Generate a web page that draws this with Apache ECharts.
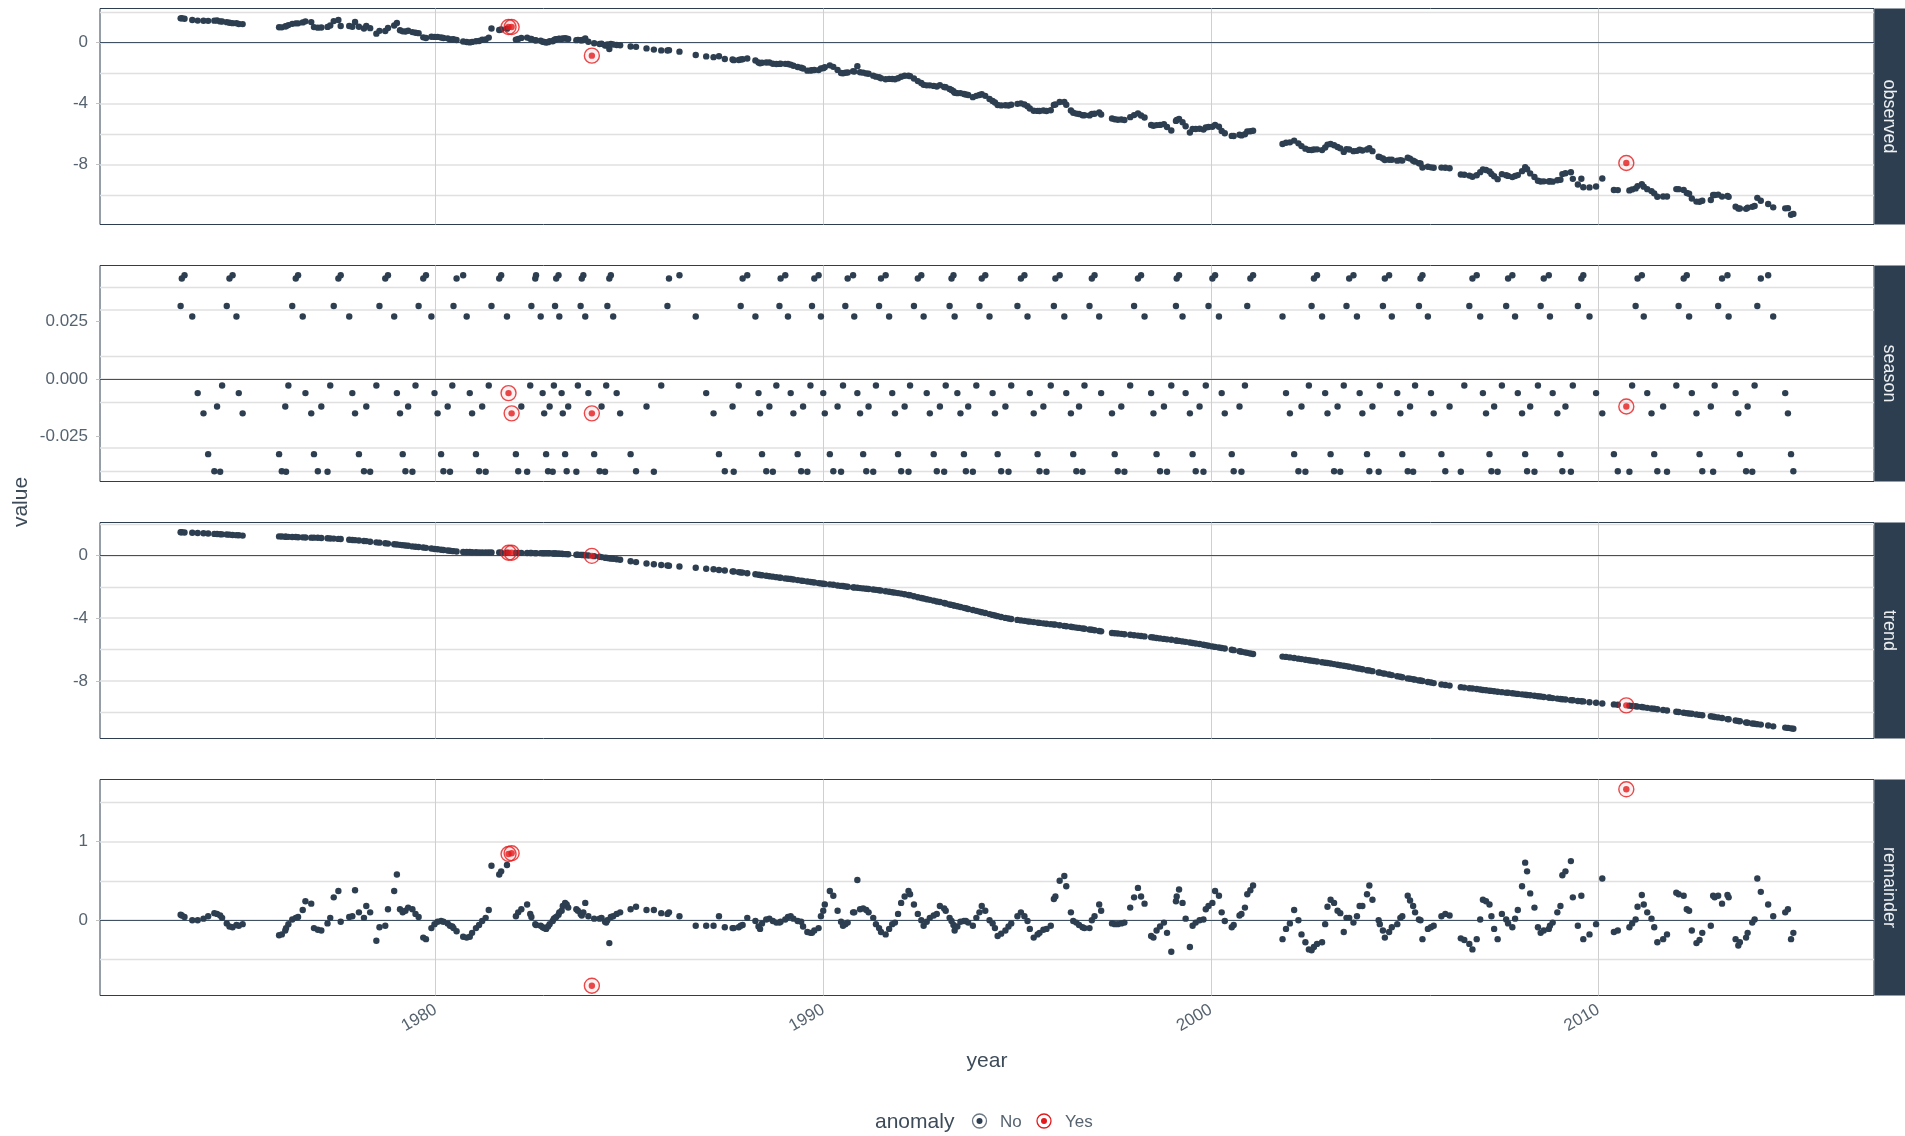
<!DOCTYPE html>
<html>
<head>
<meta charset="utf-8">
<title>Anomaly decomposition</title>
<script src="https://cdn.jsdelivr.net/npm/echarts@6/dist/echarts.min.js"></script>
<style>
  html, body { margin: 0; padding: 0; background: #ffffff; }
  #chart { width: 1905px; height: 1136px; }
</style>
</head>
<body>
<div id="chart"></div>
<script>
// ---- data: one entry per observation (decimal year) ----
const years = [
 1973.42,1973.45,1973.52,1973.72,1973.86,1974.01,1974.13,1974.29,1974.36,1974.44,1974.49,
 1974.61,1974.68,1974.76,1974.86,1974.92,1975.02,
 1975.96,1976.03,1976.12,1976.14,1976.20,
 1976.30,1976.39,1976.45,1976.57,1976.64,1976.79,1976.86,1976.96,1977.05,1977.21,1977.28,
 1977.37,1977.49,1977.55,1977.77,1977.85,1977.92,1978.02,1978.15,1978.21,1978.31,1978.47,
 1978.55,1978.70,1978.77,1978.93,1979.00,1979.08,1979.15,1979.22,1979.29,1979.40,1979.48,
 1979.56,1979.68,1979.75,1979.89,1979.97,1980.05,1980.14,1980.20,1980.31,1980.37,1980.43,
 1980.46,1980.54,1980.71,1980.80,1980.88,1980.94,1981.04,1981.12,1981.20,1981.29,1981.37,
 1981.44,1981.64,1981.69,1981.84,1981.88,1981.96,1982.07,1982.13,1982.21,1982.36,1982.44,
 1982.47,1982.57,1982.59,1982.71,1982.76,1982.80,1982.85,1982.90,1982.94,1983.02,1983.05,
 1983.08,1983.11,1983.17,1983.19,1983.25,1983.28,1983.34,1983.38,1983.42,1983.63,1983.67,
 1983.74,1983.77,1983.81,1983.86,1983.94,1984.03,1984.09,1984.23,1984.28,1984.37,1984.40,
 1984.43,1984.48,1984.52,1984.58,1984.67,1984.76,1985.03,1985.17,1985.44,1985.63,1985.82,
 1985.98,1986.02,1986.29,1986.71,1986.98,1987.17,1987.31,1987.46,1987.66,1987.69,1987.82,
 1987.87,1987.92,1988.04,1988.25,1988.33,1988.37,1988.42,1988.53,1988.61,1988.70,1988.79,
 1988.87,1988.90,1989.02,1989.09,1989.16,1989.23,1989.34,1989.43,1989.48,1989.59,1989.67,
 1989.71,1989.77,1989.88,1989.94,1990.00,1990.04,1990.17,1990.26,1990.37,1990.46,1990.51,
 1990.57,1990.63,1990.77,1990.80,1990.88,1990.95,1991.03,1991.11,1991.17,1991.29,1991.36,
 1991.44,1991.49,1991.61,1991.70,1991.78,1991.85,1991.93,1992.01,1992.10,1992.20,1992.24,
 1992.34,1992.44,1992.53,1992.59,1992.67,1992.75,1992.85,1992.93,1993.01,1993.12,1993.16,
 1993.26,1993.31,1993.36,1993.39,1993.46,1993.54,1993.63,1993.68,1993.74,1993.86,1993.95,
 1994.03,1994.09,1994.18,1994.29,1994.37,1994.43,1994.50,1994.59,1994.70,1994.78,1994.85,
 1995.01,1995.10,1995.19,1995.27,1995.33,1995.43,1995.53,1995.58,1995.68,1995.76,1995.87,
 1995.95,1995.99,1996.10,1996.22,1996.27,1996.39,1996.45,1996.53,1996.60,1996.69,1996.74,
 1996.87,1996.93,1997.00,1997.12,1997.17,1997.45,1997.52,1997.60,1997.69,1997.77,1997.92,
 1998.02,1998.12,1998.20,1998.29,1998.46,1998.52,1998.60,1998.69,1998.79,1998.87,1998.98,
 1999.10,1999.12,1999.18,1999.27,1999.35,1999.46,1999.53,1999.61,1999.71,1999.81,1999.87,
 1999.94,2000.04,2000.11,2000.21,2000.28,2000.36,2000.54,2000.59,2000.74,2000.79,2000.88,
 2000.94,2001.02,2001.09,
 2001.85,2001.94,2002.04,2002.15,2002.26,2002.34,2002.44,2002.53,
 2002.60,2002.66,2002.74,2002.87,2002.95,2003.01,2003.09,2003.18,2003.27,2003.34,2003.43,
 2003.50,2003.57,2003.68,2003.77,2003.84,2003.91,2004.03,2004.09,2004.17,2004.33,2004.36,
 2004.44,2004.49,2004.60,2004.67,2004.81,2004.89,2004.94,2005.08,2005.14,2005.22,2005.27,
 2005.37,2005.41,2005.46,2005.60,2005.68,2005.75,2005.95,2006.05,2006.16,2006.45,2006.54,
 2006.67,2006.75,2006.86,2006.95,2007.02,2007.10,2007.19,2007.24,2007.31,2007.40,2007.51,
 2007.62,2007.67,2007.78,2007.85,2007.92,2008.03,2008.11,2008.16,2008.24,2008.35,2008.44,
 2008.51,2008.59,2008.72,2008.75,2008.82,2008.94,2009.02,2009.07,2009.15,2009.29,2009.34,
 2009.47,2009.56,2009.61,2009.77,2009.94,2010.10,2010.40,2010.50,2010.72,2010.80,2010.87,
 2010.96,2011.01,2011.12,2011.17,2011.26,2011.37,2011.44,2011.52,2011.67,2011.77,2012.01,
 2012.07,2012.20,2012.28,2012.34,2012.41,2012.53,2012.61,2012.68,2012.90,2012.96,2013.00,
 2013.09,2013.19,2013.33,2013.36,2013.54,2013.61,2013.65,2013.81,2013.85,2013.97,2014.03,
 2014.10,2014.19,2014.38,2014.51,2014.82,2014.89,2014.97,2015.03
];

const season = [
 0.0317,0.0436,0.0450,0.0271,-0.0061,-0.0149,-0.0326,-0.0400,-0.0119,-0.0402,-0.0028,
 0.0317,0.0436,0.0450,0.0271,-0.0061,-0.0149,
 -0.0326,-0.0400,-0.0119,-0.0402,-0.0028,
 0.0317,0.0436,0.0450,0.0271,-0.0061,-0.0149,-0.0326,-0.0400,-0.0119,-0.0402,-0.0028,
 0.0317,0.0436,0.0450,0.0271,-0.0061,-0.0149,-0.0326,-0.0400,-0.0119,-0.0402,-0.0028,
 0.0317,0.0436,0.0450,0.0271,-0.0061,-0.0149,-0.0326,-0.0400,-0.0119,-0.0402,-0.0028,
 0.0317,0.0436,0.0450,0.0271,-0.0061,-0.0149,-0.0326,-0.0400,-0.0119,-0.0402,-0.0028,
 0.0317,0.0436,0.0450,0.0271,-0.0061,-0.0149,-0.0326,-0.0400,-0.0119,-0.0402,-0.0028,
 0.0317,0.0436,0.0450,0.0271,-0.0061,-0.0149,-0.0326,-0.0400,-0.0119,-0.0402,-0.0028,
 0.0317,0.0436,0.0450,0.0271,-0.0061,-0.0149,-0.0326,-0.0400,-0.0119,-0.0402,-0.0028,
 0.0317,0.0436,0.0450,0.0271,-0.0061,-0.0149,-0.0326,-0.0400,-0.0119,-0.0402,-0.0028,
 0.0317,0.0436,0.0450,0.0271,-0.0061,-0.0149,-0.0326,-0.0400,-0.0119,-0.0402,-0.0028,
 0.0317,0.0436,0.0450,0.0271,-0.0061,-0.0149,-0.0326,-0.0400,-0.0119,-0.0402,-0.0028,
 0.0317,0.0436,0.0450,0.0271,-0.0061,-0.0149,-0.0326,-0.0400,-0.0119,-0.0402,-0.0028,
 0.0317,0.0436,0.0450,0.0271,-0.0061,-0.0149,-0.0326,-0.0400,-0.0119,-0.0402,-0.0028,
 0.0317,0.0436,0.0450,0.0271,-0.0061,-0.0149,-0.0326,-0.0400,-0.0119,-0.0402,-0.0028,
 0.0317,0.0436,0.0450,0.0271,-0.0061,-0.0149,-0.0326,-0.0400,-0.0119,-0.0402,-0.0028,
 0.0317,0.0436,0.0450,0.0271,-0.0061,-0.0149,-0.0326,-0.0400,-0.0119,-0.0402,-0.0028,
 0.0317,0.0436,0.0450,0.0271,-0.0061,-0.0149,-0.0326,-0.0400,-0.0119,-0.0402,-0.0028,
 0.0317,0.0436,0.0450,0.0271,-0.0061,-0.0149,-0.0326,-0.0400,-0.0119,-0.0402,-0.0028,
 0.0317,0.0436,0.0450,0.0271,-0.0061,-0.0149,-0.0326,-0.0400,-0.0119,-0.0402,-0.0028,
 0.0317,0.0436,0.0450,0.0271,-0.0061,-0.0149,-0.0326,-0.0400,-0.0119,-0.0402,-0.0028,
 0.0317,0.0436,0.0450,0.0271,-0.0061,-0.0149,-0.0326,-0.0400,-0.0119,-0.0402,-0.0028,
 0.0317,0.0436,0.0450,0.0271,-0.0061,-0.0149,-0.0326,-0.0400,-0.0119,-0.0402,-0.0028,
 0.0317,0.0436,0.0450,0.0271,-0.0061,-0.0149,-0.0326,-0.0400,-0.0119,-0.0402,-0.0028,
 0.0317,0.0436,0.0450,0.0271,-0.0061,-0.0149,-0.0326,-0.0400,-0.0119,-0.0402,-0.0028,
 0.0317,0.0436,0.0450,0.0271,-0.0061,-0.0149,-0.0326,-0.0400,-0.0119,-0.0402,-0.0028,
 0.0317,0.0436,0.0450,0.0271,-0.0061,-0.0149,-0.0326,-0.0400,-0.0119,-0.0402,-0.0028,
 0.0317,0.0436,0.0450,
 0.0271,-0.0061,-0.0149,-0.0326,-0.0400,-0.0119,-0.0402,-0.0028,
 0.0317,0.0436,0.0450,0.0271,-0.0061,-0.0149,-0.0326,-0.0400,-0.0119,-0.0402,-0.0028,
 0.0317,0.0436,0.0450,0.0271,-0.0061,-0.0149,-0.0326,-0.0400,-0.0119,-0.0402,-0.0028,
 0.0317,0.0436,0.0450,0.0271,-0.0061,-0.0149,-0.0326,-0.0400,-0.0119,-0.0402,-0.0028,
 0.0317,0.0436,0.0450,0.0271,-0.0061,-0.0149,-0.0326,-0.0400,-0.0119,-0.0402,-0.0028,
 0.0317,0.0436,0.0450,0.0271,-0.0061,-0.0149,-0.0326,-0.0400,-0.0119,-0.0402,-0.0028,
 0.0317,0.0436,0.0450,0.0271,-0.0061,-0.0149,-0.0326,-0.0400,-0.0119,-0.0402,-0.0028,
 0.0317,0.0436,0.0450,0.0271,-0.0061,-0.0149,-0.0326,-0.0400,-0.0119,-0.0402,-0.0028,
 0.0317,0.0436,0.0450,0.0271,-0.0061,-0.0149,-0.0326,-0.0400,-0.0119,-0.0402,-0.0028,
 0.0317,0.0436,0.0450,0.0271,-0.0061,-0.0149,-0.0326,-0.0400,-0.0119,-0.0402,-0.0028,
 0.0317,0.0436,0.0450,0.0271,-0.0061,-0.0149,-0.0326,-0.0400,-0.0119,-0.0402,-0.0028,
 0.0317,0.0436,0.0450,0.0271,-0.0061,-0.0149,-0.0326,-0.0400,-0.0119,-0.0402,-0.0028,
 0.0317,0.0436,0.0450,0.0271,-0.0061,-0.0149,-0.0326,-0.0400
];

const trend = [
 1.48,1.48,1.47,1.45,1.44,1.42,1.40,1.38,1.37,1.36,1.35,
 1.34,1.33,1.31,1.30,1.29,1.27,
 1.22,1.21,1.20,1.20,1.19,
 1.18,1.18,1.17,1.16,1.15,1.14,1.14,1.13,1.12,1.10,1.09,
 1.08,1.06,1.05,1.01,0.99,0.98,0.96,0.93,0.92,0.88,0.84,
 0.82,0.78,0.76,0.72,0.70,0.68,0.66,0.64,0.62,0.58,0.56,
 0.54,0.51,0.49,0.45,0.42,0.40,0.37,0.35,0.32,0.30,0.28,
 0.28,0.26,0.23,0.22,0.22,0.21,0.21,0.20,0.20,0.20,0.19,
 0.19,0.19,0.18,0.18,0.18,0.18,0.17,0.17,0.17,0.16,0.16,
 0.16,0.15,0.15,0.15,0.14,0.14,0.14,0.14,0.14,0.13,0.13,
 0.13,0.13,0.12,0.12,0.11,0.10,0.09,0.09,0.08,0.05,0.05,
 0.04,0.03,0.03,0.02,0.00,-0.02,-0.04,-0.08,-0.10,-0.14,-0.15,
 -0.16,-0.18,-0.19,-0.21,-0.24,-0.27,-0.37,-0.42,-0.51,-0.56,-0.61,
 -0.64,-0.65,-0.70,-0.78,-0.84,-0.88,-0.92,-0.96,-1.01,-1.02,-1.06,
 -1.08,-1.09,-1.13,-1.20,-1.23,-1.24,-1.26,-1.29,-1.32,-1.35,-1.38,
 -1.41,-1.42,-1.46,-1.48,-1.50,-1.53,-1.57,-1.60,-1.62,-1.66,-1.68,
 -1.70,-1.72,-1.76,-1.78,-1.80,-1.81,-1.84,-1.87,-1.91,-1.94,-1.95,
 -1.97,-1.99,-2.03,-2.04,-2.06,-2.08,-2.10,-2.12,-2.14,-2.17,-2.19,
 -2.22,-2.24,-2.28,-2.31,-2.34,-2.37,-2.40,-2.43,-2.47,-2.52,-2.54,
 -2.60,-2.66,-2.71,-2.74,-2.79,-2.83,-2.88,-2.93,-2.97,-3.03,-3.06,
 -3.12,-3.15,-3.18,-3.20,-3.24,-3.29,-3.34,-3.37,-3.41,-3.48,-3.53,
 -3.58,-3.62,-3.67,-3.74,-3.79,-3.83,-3.87,-3.92,-3.98,-4.02,-4.05,
 -4.11,-4.14,-4.17,-4.20,-4.22,-4.25,-4.28,-4.30,-4.33,-4.35,-4.38,
 -4.40,-4.41,-4.45,-4.49,-4.51,-4.55,-4.57,-4.60,-4.62,-4.65,-4.67,
 -4.72,-4.74,-4.77,-4.82,-4.84,-4.94,-4.96,-4.98,-5.00,-5.02,-5.06,
 -5.09,-5.11,-5.14,-5.16,-5.21,-5.23,-5.26,-5.29,-5.32,-5.35,-5.38,
 -5.42,-5.43,-5.45,-5.48,-5.51,-5.55,-5.58,-5.61,-5.65,-5.69,-5.72,
 -5.76,-5.80,-5.83,-5.87,-5.90,-5.93,-6.01,-6.04,-6.11,-6.14,-6.18,
 -6.21,-6.25,-6.28,
 -6.45,-6.47,-6.50,-6.54,-6.58,-6.61,-6.65,-6.68,
 -6.71,-6.73,-6.76,-6.81,-6.84,-6.86,-6.89,-6.93,-6.97,-7.00,-7.03,
 -7.06,-7.10,-7.15,-7.19,-7.22,-7.26,-7.32,-7.34,-7.38,-7.46,-7.47,
 -7.52,-7.54,-7.59,-7.63,-7.70,-7.74,-7.77,-7.84,-7.86,-7.90,-7.92,
 -7.97,-7.98,-8.01,-8.07,-8.10,-8.14,-8.23,-8.26,-8.30,-8.40,-8.43,
 -8.47,-8.49,-8.52,-8.55,-8.58,-8.60,-8.63,-8.64,-8.66,-8.69,-8.72,
 -8.75,-8.76,-8.79,-8.81,-8.83,-8.86,-8.88,-8.90,-8.92,-8.95,-8.98,
 -9.00,-9.03,-9.06,-9.07,-9.10,-9.13,-9.16,-9.17,-9.19,-9.23,-9.24,
 -9.28,-9.30,-9.31,-9.36,-9.40,-9.44,-9.50,-9.52,-9.56,-9.58,-9.60,
 -9.62,-9.64,-9.67,-9.69,-9.72,-9.76,-9.78,-9.81,-9.86,-9.89,-9.97,
 -9.99,-10.03,-10.06,-10.08,-10.10,-10.14,-10.17,-10.19,-10.26,-10.28,-10.30,
 -10.33,-10.37,-10.44,-10.45,-10.53,-10.56,-10.58,-10.66,-10.67,-10.72,-10.74,
 -10.76,-10.79,-10.85,-10.90,-10.98,-11.00,-11.03,-11.05
];

const remainder = [
 0.07,0.06,0.04,0.00,0.00,0.02,0.05,0.09,0.08,0.06,0.03,
 -0.04,-0.08,-0.09,-0.06,-0.07,-0.05,
 -0.19,-0.18,-0.13,-0.10,-0.05,
 0.01,0.03,0.04,0.13,0.24,0.21,-0.10,-0.12,-0.13,-0.04,0.03,
 0.29,0.37,-0.02,0.04,0.05,0.38,0.10,0.03,0.18,0.10,-0.26,
 -0.09,-0.07,0.14,0.37,0.58,0.14,0.10,0.12,0.16,0.14,0.08,
 0.04,-0.22,-0.24,-0.10,-0.05,-0.02,-0.01,-0.02,-0.04,-0.07,-0.08,
 -0.10,-0.14,-0.21,-0.22,-0.21,-0.16,-0.10,-0.06,-0.01,0.03,0.13,
 0.69,0.58,0.62,0.70,0.84,0.85,0.05,0.10,0.14,0.20,0.08,
 0.04,-0.05,-0.06,-0.07,-0.09,-0.10,-0.11,-0.08,-0.05,-0.01,0.02,
 0.03,0.04,0.07,0.10,0.12,0.18,0.22,0.20,0.16,0.14,0.12,
 0.08,0.06,0.10,0.22,0.05,-0.83,0.02,0.02,0.03,-0.02,-0.03,
 0.00,-0.29,0.04,0.05,0.08,0.10,0.14,0.17,0.13,0.13,0.09,
 0.08,0.10,0.05,-0.07,-0.07,-0.07,0.05,-0.09,-0.10,-0.10,-0.09,
 -0.07,-0.06,0.03,-0.01,-0.08,-0.11,-0.04,0.01,0.02,-0.01,-0.03,
 -0.03,-0.02,0.01,0.04,0.05,0.02,-0.01,-0.02,-0.08,-0.15,-0.16,
 -0.16,-0.13,-0.10,0.05,0.12,0.20,0.37,0.31,0.12,-0.02,-0.07,
 -0.05,-0.03,0.10,0.10,0.51,0.14,0.15,0.13,0.10,0.03,-0.05,
 -0.10,-0.15,-0.18,-0.11,-0.05,-0.03,0.08,0.22,0.30,0.37,0.33,
 0.20,0.08,0.00,-0.07,-0.02,0.03,0.06,0.08,0.18,0.15,0.12,
 0.03,-0.01,-0.06,-0.13,-0.08,-0.02,-0.01,-0.01,-0.03,-0.07,0.03,
 0.10,0.18,0.12,0.00,-0.04,-0.10,-0.20,-0.17,-0.13,-0.08,-0.04,
 0.05,0.10,0.05,-0.01,-0.11,-0.22,-0.18,-0.16,-0.12,-0.11,-0.07,
 0.27,0.30,0.50,0.56,0.43,0.10,-0.01,-0.03,-0.06,-0.09,-0.10,
 -0.10,0.00,0.05,0.20,0.12,-0.04,-0.05,-0.05,-0.04,-0.03,0.16,
 0.29,0.41,0.30,0.21,-0.20,-0.22,-0.13,-0.08,-0.03,-0.16,-0.40,
 0.24,0.30,0.39,0.22,0.02,-0.34,-0.07,-0.03,0.00,0.01,0.14,
 0.18,0.22,0.37,0.31,0.10,-0.01,-0.09,-0.06,0.06,0.08,0.16,
 0.33,0.38,0.44,
 -0.24,-0.11,-0.04,0.13,0.00,-0.18,-0.28,-0.37,
 -0.38,-0.34,-0.30,-0.28,-0.05,0.17,0.26,0.22,0.12,0.09,-0.15,
 0.03,0.03,-0.03,0.05,0.18,0.18,0.33,0.44,0.26,0.00,-0.05,
 -0.13,-0.22,-0.15,-0.09,-0.05,0.03,0.05,0.31,0.25,0.18,0.10,
 0.01,0.00,-0.24,-0.11,-0.09,-0.07,0.05,0.08,0.06,-0.23,-0.25,
 -0.30,-0.37,-0.24,0.01,0.26,0.24,0.20,0.05,-0.11,-0.24,0.08,
 0.01,-0.04,-0.09,0.02,0.13,0.43,0.73,0.62,0.34,0.16,-0.09,
 -0.16,-0.13,-0.11,-0.07,-0.03,0.10,0.18,0.57,0.62,0.75,0.29,
 -0.07,0.31,-0.24,-0.18,-0.05,0.53,-0.15,-0.13,1.66,-0.09,-0.04,
 0.01,0.17,0.32,0.20,0.10,0.02,-0.09,-0.28,-0.24,-0.18,0.35,
 0.33,0.31,0.14,0.12,-0.13,-0.29,-0.25,-0.16,-0.07,0.31,0.29,
 0.31,0.21,0.32,0.29,-0.24,-0.32,-0.28,-0.22,-0.16,-0.03,0.01,
 0.53,0.36,0.20,0.05,0.10,0.14,-0.24,-0.16
];

// observations flagged as anomalies
const anomalyYears = [1981.88, 1981.96, 1984.03, 2010.72];

// facet order and axis breaks
const panels = ['observed', 'season', 'trend', 'remainder'];
const xBreaks = [1980, 1990, 2000, 2010];
const yBreaks = {
  observed:  [-8, -4, 0],
  season:    [-0.025, 0, 0.025],
  trend:     [-8, -4, 0],
  remainder: [0, 1]
};
const yMinorBreaks = {
  observed:  [-10, -6, -2, 2],
  season:    [-0.0375, -0.0125, 0.0125, 0.0375],
  trend:     [-10, -6, -2, 2],
  remainder: [-0.5, 0.5, 1.5]
};

// ---- derived values ----
const n = Math.min(years.length, season.length, trend.length, remainder.length);
// the observed series is the sum of its three components
const observed = [];
for (let i = 0; i < n; i++) observed.push(+(trend[i] + season[i] + remainder[i]).toFixed(4));
const values = { observed, season, trend, remainder };
const isAnomaly = years.map(y => anomalyYears.some(a => Math.abs(a - y) < 1e-6));

function expanded(arr) {
  let lo = Infinity, hi = -Infinity;
  for (let i = 0; i < n; i++) { lo = Math.min(lo, arr[i]); hi = Math.max(hi, arr[i]); }
  const pad = (hi - lo) * 0.05;
  return [lo - pad, hi + pad];
}

// ---- styling ----
const FONT = 'Liberation Sans, Arial, Helvetica, sans-serif';
const NAVY = '#2c3e50';
const RED = '#e31a1c';
const TICK_TEXT = '#56636f';
const TITLE_TEXT = '#3d4b59';
const GRID_H = '#e0e0e0';
const GRID_V = '#cfcfcf';
const DOT = 6.4;

const L = 100, R = 31, TOP = 8.5, H = 216, GAP = 41;
const W = 1905;
const panelTop = i => TOP + i * (H + GAP);

const xRange = expanded(years);

const grid = [], xAxis = [], yAxis = [], series = [], graphic = [];

panels.forEach((p, i) => {
  const isBottom = i === panels.length - 1;
  const yr = expanded(values[p]);
  grid.push({
    left: L, right: R, top: panelTop(i), height: H,
    show: true, borderColor: NAVY, borderWidth: 1, backgroundColor: 'transparent'
  });
  xAxis.push({
    type: 'value', gridIndex: i, min: xRange[0], max: xRange[1],
    splitLine: { show: false }, axisLine: { show: false },
    axisTick: { show: isBottom, length: 4, customValues: xBreaks, lineStyle: { color: '#c2c2c2', width: 1 } },
    axisLabel: {
      show: isBottom, customValues: xBreaks, rotate: 30, margin: 13,
      fontSize: 17, color: TICK_TEXT, fontFamily: FONT,
      formatter: v => String(v)
    }
  });
  yAxis.push({
    type: 'value', gridIndex: i, min: yr[0], max: yr[1],
    splitLine: { show: false }, axisLine: { show: false },
    axisTick: { show: true, length: 4, customValues: yBreaks[p], lineStyle: { color: '#c2c2c2', width: 1 } },
    axisLabel: {
      customValues: yBreaks[p], margin: 12, fontSize: 17, color: TICK_TEXT, fontFamily: FONT,
      formatter: v => p === 'season' ? v.toFixed(3) : String(v)
    }
  });

  const normal = [], anomalous = [];
  for (let k = 0; k < n; k++) {
    const pt = [years[k], values[p][k]];
    (isAnomaly[k] ? anomalous : normal).push(pt);
  }

  // background reference lines: minor + major horizontals, decade verticals, zero line
  const refLines = []
    .concat(yMinorBreaks[p].map(v => ({ yAxis: v, lineStyle: { color: GRID_H, width: 1.4, type: 'solid' } })))
    .concat(yBreaks[p].map(v => ({ yAxis: v, lineStyle: { color: GRID_H, width: 1.6, type: 'solid' } })))
    .concat(xBreaks.map(v => ({ xAxis: v, lineStyle: { color: GRID_V, width: 1, type: 'solid' } })))
    .concat([{ yAxis: 0, lineStyle: { color: '#3f5163', width: 1.2, type: 'solid' } }]);

  series.push({
    name: p + ' No', type: 'scatter', xAxisIndex: i, yAxisIndex: i,
    data: normal, symbol: 'circle', symbolSize: DOT, z: 10, silent: true,
    itemStyle: { color: NAVY, opacity: 1 },
    markLine: {
      silent: true, symbol: ['none', 'none'], z: 1, animation: false,
      label: { show: false }, emphasis: { disabled: true },
      data: refLines
    }
  });
  series.push({
    name: p + ' Yes ring', type: 'scatter', xAxisIndex: i, yAxisIndex: i,
    data: anomalous, symbol: 'circle', symbolSize: 15, z: 11, silent: true,
    itemStyle: { color: 'rgba(227,26,28,0.07)', borderColor: RED, borderWidth: 1.4 }
  });
  series.push({
    name: p + ' Yes', type: 'scatter', xAxisIndex: i, yAxisIndex: i,
    data: anomalous, symbol: 'circle', symbolSize: DOT, z: 12, silent: true,
    itemStyle: { color: RED }
  });

  // facet strip on the right
  graphic.push({
    type: 'rect', silent: true,
    shape: { x: W - R + 0.5, y: panelTop(i), width: R, height: H },
    style: { fill: NAVY }
  });
  graphic.push({
    type: 'text', silent: true,
    x: W - R / 2 - 1, y: panelTop(i) + H / 2, rotation: -Math.PI / 2,
    style: { text: p, fill: '#eef0f2', font: '18px ' + FONT, align: 'center', verticalAlign: 'middle' }
  });
});

// axis titles
graphic.push({
  type: 'text', silent: true, x: 21, y: panelTop(0) + (panelTop(3) + H - panelTop(0)) / 2,
  rotation: Math.PI / 2,
  style: { text: 'value', fill: TITLE_TEXT, font: '21px ' + FONT, align: 'center', verticalAlign: 'middle' }
});
graphic.push({
  type: 'text', silent: true, x: L + (W - R - L) / 2, y: 1061,
  style: { text: 'year', fill: TITLE_TEXT, font: '21px ' + FONT, align: 'center', verticalAlign: 'middle' }
});

// legend
const LEG_Y = 1121;
graphic.push({
  type: 'text', silent: true, x: 875, y: LEG_Y + 1,
  style: { text: 'anomaly', fill: TITLE_TEXT, font: '21px ' + FONT, align: 'left', verticalAlign: 'middle' }
});
[[979.5, '#6d7884', NAVY, 'No', 1000], [1044, RED, RED, 'Yes', 1065]].forEach(([cx, ring, dot, label, tx]) => {
  graphic.push({ type: 'circle', silent: true, shape: { cx, cy: LEG_Y, r: 7 },
    style: { fill: 'none', stroke: ring, lineWidth: 1.3 } });
  graphic.push({ type: 'circle', silent: true, shape: { cx, cy: LEG_Y, r: 3 },
    style: { fill: dot } });
  graphic.push({ type: 'text', silent: true, x: tx, y: LEG_Y + 1,
    style: { text: label, fill: TICK_TEXT, font: '17px ' + FONT, align: 'left', verticalAlign: 'middle' } });
});

const chart = echarts.init(document.getElementById('chart'), null, { renderer: 'canvas' });
chart.setOption({
  animation: false,
  backgroundColor: '#ffffff',
  grid, xAxis, yAxis, series, graphic
});
</script>
</body>
</html>
